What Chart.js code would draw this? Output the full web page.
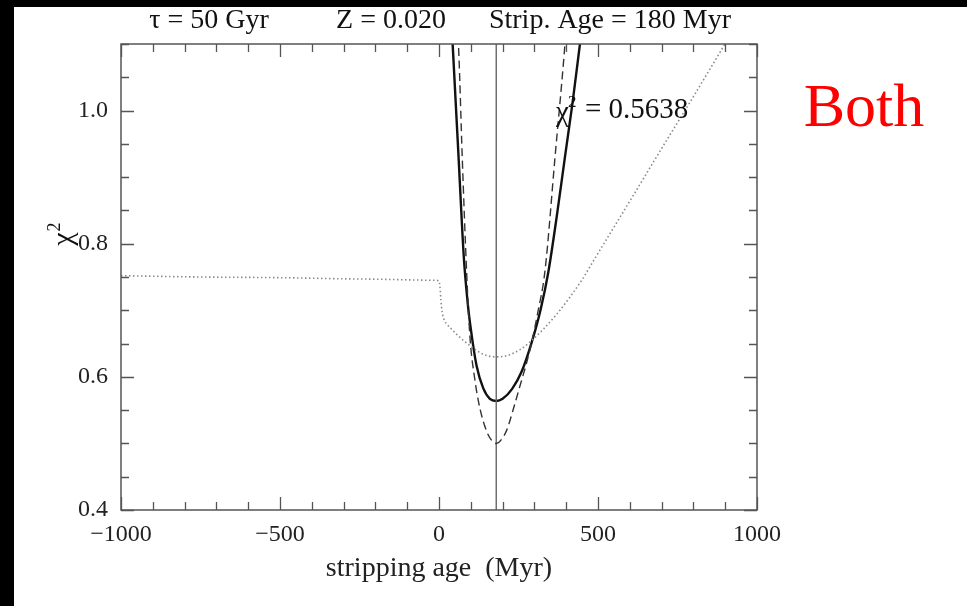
<!DOCTYPE html>
<html>
<head>
<meta charset="utf-8">
<script src="https://cdn.jsdelivr.net/npm/chart.js@4/dist/chart.umd.min.js"></script>
<style>
  html, body { margin: 0; padding: 0; background: #000; width: 967px; height: 606px; overflow: hidden; }
  #wrap { position: absolute; left: 14px; top: 7px; width: 953px; height: 599px; background: #fff; }
  canvas { display: block; }
</style>
</head>
<body>
<div id="wrap"><canvas id="c" width="953" height="599"></canvas></div>
<script>
// chi^2 of the "Both" fit as a function of stripping age (Myr)
const bothAge = [30, 43, 61, 78, 90, 100, 118, 139, 160, 180, 200, 230, 260, 291, 320, 344, 370, 396, 420, 443, 460];
const bothChi = [1.22, 1.099, 0.935, 0.780, 0.712, 0.672, 0.617, 0.583, 0.567, 0.5638, 0.567, 0.582, 0.608, 0.651, 0.702, 0.758, 0.840, 0.930, 1.012, 1.099, 1.16];

// dashed comparison curve
const dashAge = [55, 62, 73, 87, 97, 113, 129, 150, 165, 180, 195, 213, 234, 255, 276, 291, 310, 333, 365, 396, 405];
const dashChi = [1.15, 1.09, 0.931, 0.756, 0.662, 0.595, 0.552, 0.518, 0.505, 0.50, 0.505, 0.52, 0.552, 0.587, 0.622, 0.651, 0.695, 0.758, 0.931, 1.099, 1.16];

// dotted comparison curve
const dotAge = [-1000, -750, -500, -250, -10, 0, 3, 6, 10, 16, 25, 35, 55, 76, 100, 123, 150, 181, 215, 255, 290, 327, 370, 412, 450, 484, 600, 700, 800, 893, 1000];
const dotChi = [0.752, 0.750, 0.749, 0.747, 0.745, 0.744, 0.735, 0.715, 0.697, 0.686, 0.679, 0.674, 0.664, 0.655, 0.646, 0.638, 0.632, 0.630, 0.632, 0.641, 0.654, 0.671, 0.694, 0.720, 0.746, 0.773, 0.864, 0.943, 1.021, 1.095, 1.18];

// best stripping age
const stripAge = 180;
const bestChi = 0.5638;

const xTickValues = [-1000, -500, 0, 500, 1000];
const yTickValues = [0.4, 0.6, 0.8, 1.0];
const xRange = [-1000, 1000];
const yRange = [0.4, 1.1];
const xMinorStep = 100;
const yMinorStep = 0.05;

const titleParts = ['\u03C4 = 50 Gyr', 'Z = 0.020', 'Strip. Age = 180 Myr'];
const panelLabel = 'Both';

const pts = (xs, ys) => xs.map((x, i) => ({ x, y: ys[i] }));
const serif = "'Liberation Serif', 'Times New Roman', serif";

const framePlugin = {
  id: 'frame',
  afterDatasetsDraw(chart) {
    const { ctx, chartArea: a, scales: { x, y } } = chart;
    ctx.save();
    ctx.strokeStyle = '#555';
    ctx.lineWidth = 1.3;
    // inward ticks on all four sides
    for (let v = xRange[0]; v <= xRange[1] + 1e-9; v += xMinorStep) {
      const px = Math.round(x.getPixelForValue(v)) + 0.5;
      const len = Math.abs(v % 500) < 1e-9 ? 13 : 8;
      ctx.beginPath();
      ctx.moveTo(px, a.bottom); ctx.lineTo(px, a.bottom - len);
      ctx.moveTo(px, a.top); ctx.lineTo(px, a.top + len);
      ctx.stroke();
    }
    for (let i = 0; ; i++) {
      const v = yRange[0] + i * yMinorStep;
      if (v > yRange[1] + 1e-9) break;
      const py = Math.round(y.getPixelForValue(v)) + 0.5;
      const r = Math.round(v * 100);
      const len = r % 20 === 0 ? 13 : 8;
      ctx.beginPath();
      ctx.moveTo(a.left, py); ctx.lineTo(a.left + len, py);
      ctx.moveTo(a.right, py); ctx.lineTo(a.right - len, py);
      ctx.stroke();
    }
    ctx.lineWidth = 1.5;
    ctx.strokeRect(a.left, a.top, a.right - a.left, a.bottom - a.top);

    // fit value annotation
    const ax = x.getPixelForValue(368), ay = y.getPixelForValue(1.0);
    ctx.fillStyle = '#111';
    ctx.textBaseline = 'middle';
    ctx.textAlign = 'left';
    ctx.font = '29px ' + serif;
    ctx.fillText('\u03C7', ax, ay + 3);
    const cw = ctx.measureText('\u03C7').width;
    ctx.font = '17px ' + serif;
    ctx.fillText('2', ax + cw - 1, ay - 8);
    ctx.font = '29px ' + serif;
    ctx.fillText('= ' + bestChi.toFixed(4), ax + cw + 16, ay);
    ctx.restore();
  },
  afterDraw(chart) {
    const { ctx } = chart;
    ctx.save();
    ctx.fillStyle = '#111';
    ctx.textBaseline = 'middle';
    ctx.textAlign = 'center';
    ctx.font = '28px ' + serif;
    const centers = [195, 377, 596];
    titleParts.forEach((t, i) => ctx.fillText(t, centers[i], 14));
    // vertical axis title
    ctx.save();
    ctx.translate(50, 232);
    ctx.rotate(-Math.PI / 2);
    ctx.font = '30px ' + serif;
    ctx.fillText('\u03C7', 0, 0);
    ctx.font = '18px ' + serif;
    ctx.fillText('2', 12, -9);
    ctx.restore();
    ctx.fillStyle = '#ff0000';
    ctx.font = '62px ' + serif;
    ctx.fillText(panelLabel, 850, 103);
    ctx.restore();
  }
};

new Chart(document.getElementById('c'), {
  type: 'line',
  data: {
    datasets: [
      { data: pts(dotAge, dotChi), borderColor: '#8a8a8a', borderWidth: 1.6, borderDash: [1.5, 2.5], pointRadius: 0, cubicInterpolationMode: 'monotone' },
      { data: pts(dashAge, dashChi), borderColor: '#333', borderWidth: 1.4, borderDash: [8, 4.5], pointRadius: 0, cubicInterpolationMode: 'monotone' },
      { data: pts([stripAge, stripAge], yRange), borderColor: '#666', borderWidth: 1.4, pointRadius: 0 },
      { data: pts(bothAge, bothChi), borderColor: '#111', borderWidth: 2.4, pointRadius: 0, cubicInterpolationMode: 'monotone' }
    ]
  },
  options: {
    responsive: false,
    animation: false,
    events: [],
    layout: { padding: { left: 0, top: 37, right: 210, bottom: 0 } },
    plugins: { legend: { display: false }, tooltip: { enabled: false } },
    scales: {
      x: {
        type: 'linear', min: xRange[0], max: xRange[1],
        grid: { display: false, drawTicks: false },
        border: { display: false },
        afterBuildTicks: s => { s.ticks = xTickValues.map(v => ({ value: v })); },
        afterFit: s => { s.height = 96; },
        ticks: {
          color: '#222', padding: 10, maxRotation: 0, autoSkip: false,
          font: { family: serif, size: 24 },
          callback: v => (v < 0 ? '\u2212' + Math.abs(v) : String(v))
        },
        title: { display: true, text: 'stripping age  (Myr)', color: '#222', font: { family: serif, size: 28 }, padding: { top: 0, bottom: 21 } }
      },
      y: {
        type: 'linear', min: yRange[0], max: yRange[1],
        grid: { display: false, drawTicks: false },
        border: { display: false },
        afterBuildTicks: s => { s.ticks = yTickValues.map(v => ({ value: v })); },
        afterFit: s => { s.width = 107; },
        ticks: {
          color: '#222', padding: 13,
          font: { family: serif, size: 24 },
          callback: v => v.toFixed(1)
        }
      }
    }
  },
  plugins: [framePlugin]
});
</script>
</body>
</html>
